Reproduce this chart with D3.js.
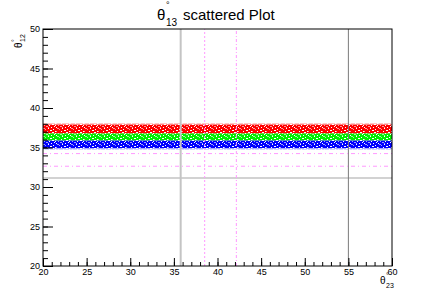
<!DOCTYPE html>
<html>
<head>
<meta charset="utf-8">
<script src="https://cdn.jsdelivr.net/npm/d3@7"></script>
<style>
  body { margin: 0; background: #fff; }
  text { font-family: "Liberation Sans", Arial, sans-serif; }
</style>
</head>
<body>
<div id="chart"></div>
<script>
const config = {
    width: 436,
    height: 295,
    marginTop: 29,
    marginRight: 44,
    marginBottom: 29,
    marginLeft: 43
};

// scattered bands (theta12 range per colour, over the full theta23 range)
const series = ['red', 'green', 'blue'];
const bandColors = ['#ff0000', '#00ee00', '#0000ff'];
const bandLow = [36.82, 35.93, 34.93];
const bandHigh = [37.88, 36.75, 35.85];
const bandX = [20, 60];

// reference lines
const grayV = [35.78, 55];
const grayH = [31.15];
const magentaV = [38.53, 42.16];
const magentaH = [34.23, 32.63];

const xTicks = [20, 25, 30, 35, 40, 45, 50, 55, 60];
const yTicks = [20, 25, 30, 35, 40, 45, 50];
const xDomain = [20, 60];
const yDomain = [20, 50];

const svg = d3.select('#chart')
    .append('svg')
    .attr('width', config.width)
    .attr('height', config.height);

const xScale = d3.scaleLinear()
    .domain(xDomain)
    .range([config.marginLeft, config.width - config.marginRight]);

const yScale = d3.scaleLinear()
    .domain(yDomain)
    .range([config.height - config.marginBottom, config.marginTop]);

// speckled fill texture for the dense scatter
const defs = svg.append('defs');
const specks = [[1,0],[6,0],[11,1],[3,1],[8,2],[13,3],[0,3],[5,3],[10,4],[2,5],[7,5],[12,6],[4,6],[9,7],[0,7],[6,7],[13,5]];
series.forEach((name, i) => {
    const p = defs.append('pattern')
        .attr('id', 'band-' + name)
        .attr('patternUnits', 'userSpaceOnUse')
        .attr('width', 14)
        .attr('height', 8);
    p.append('rect').attr('width', 14).attr('height', 8).attr('fill', bandColors[i]);
    specks.forEach(([sx, sy], k) => {
        p.append('rect').attr('x', sx).attr('y', sy)
            .attr('width', k % 4 === 0 ? 2 : 1).attr('height', 1)
            .attr('fill', '#fff')
            .attr('opacity', k % 3 === 0 ? 0.6 : 1);
    });
});

const bands = svg.append('g');

// soft fringe around each band
bands.selectAll('rect.fringe')
    .data(series)
    .join('rect')
    .attr('class', 'fringe')
    .attr('x', xScale(bandX[0]))
    .attr('width', xScale(bandX[1]) - xScale(bandX[0]))
    .attr('y', (d, i) => yScale(bandHigh[i]) - 1.5)
    .attr('height', (d, i) => yScale(bandLow[i]) - yScale(bandHigh[i]) + 3)
    .attr('fill', d => `url(#band-${d})`)
    .attr('opacity', 0.3);

bands.selectAll('rect.core')
    .data(series)
    .join('rect')
    .attr('class', 'core')
    .attr('x', xScale(bandX[0]))
    .attr('width', xScale(bandX[1]) - xScale(bandX[0]))
    .attr('y', (d, i) => yScale(bandHigh[i]))
    .attr('height', (d, i) => yScale(bandLow[i]) - yScale(bandHigh[i]))
    .attr('fill', d => `url(#band-${d})`);

// reference lines
svg.append('g')
    .selectAll('line')
    .data(grayH)
    .join('line')
    .attr('x1', xScale(20)).attr('x2', xScale(60))
    .attr('y1', d => yScale(d)).attr('y2', d => yScale(d))
    .attr('stroke', '#d2d2d2')
    .attr('stroke-width', 2);

svg.append('g')
    .selectAll('line')
    .data(grayV)
    .join('line')
    .attr('x1', d => xScale(d)).attr('x2', d => xScale(d))
    .attr('y1', yScale(20)).attr('y2', yScale(50))
    .attr('stroke', (d, i) => i === 0 ? '#c4c4c4' : '#7a7a7a')
    .attr('stroke-width', (d, i) => i === 0 ? 2 : 1);

svg.append('g')
    .selectAll('line')
    .data(magentaV)
    .join('line')
    .attr('x1', d => xScale(d)).attr('x2', d => xScale(d))
    .attr('y1', yScale(20)).attr('y2', yScale(50))
    .attr('stroke', '#ff99ff')
    .attr('stroke-dasharray', (d, i) => i === 0 ? '2,2' : '3,2,1,2');

svg.append('g')
    .selectAll('line')
    .data(magentaH)
    .join('line')
    .attr('x1', xScale(20)).attr('x2', xScale(60))
    .attr('y1', d => yScale(d)).attr('y2', d => yScale(d))
    .attr('stroke', '#ff99ff')
    .attr('stroke-dasharray', '4,3,1,3');

// axes: ticks inside the frame
const bottom = config.height - config.marginBottom;
svg.append('g')
    .attr('transform', `translate(0,${bottom})`)
    .call(d3.axisBottom(xScale).tickValues(d3.range(20, 61, 1)).tickSize(-4).tickSizeOuter(0).tickFormat(''))
    .call(g => g.select('.domain').remove());

svg.append('g')
    .attr('transform', `translate(0,${bottom})`)
    .call(d3.axisBottom(xScale).tickValues(xTicks).tickSize(-8).tickSizeOuter(0).tickPadding(3))
    .call(g => g.select('.domain').remove())
    .call(g => g.selectAll('text').attr('font-size', 9).attr('fill', '#000'));

svg.append('g')
    .attr('transform', `translate(${config.marginLeft},0)`)
    .call(d3.axisLeft(yScale).tickValues(d3.range(20, 51, 1)).tickSize(-5).tickSizeOuter(0).tickFormat(''))
    .call(g => g.select('.domain').remove());

svg.append('g')
    .attr('transform', `translate(${config.marginLeft},0)`)
    .call(d3.axisLeft(yScale).tickValues(yTicks).tickSize(-10).tickSizeOuter(0).tickPadding(3))
    .call(g => g.select('.domain').remove())
    .call(g => g.selectAll('text').attr('font-size', 9).attr('fill', '#000'));

// frame
svg.append('rect')
    .attr('x', xScale(20))
    .attr('y', yScale(50))
    .attr('width', xScale(60) - xScale(20))
    .attr('height', yScale(20) - yScale(50))
    .attr('fill', 'none')
    .attr('stroke', '#000')
    .attr('stroke-width', 1);

// title
const title = svg.append('g');
title.append('text').attr('x', 157).attr('y', 20).attr('font-size', 15).text('θ');
title.append('text').attr('x', 166).attr('y', 8).attr('font-size', 9).text('°');
title.append('text').attr('x', 166).attr('y', 26).attr('font-size', 10).text('13');
title.append('text').attr('x', 183).attr('y', 20).attr('font-size', 15).text('scattered Plot');

// y-axis title
const ylab = svg.append('g').attr('transform', 'translate(22,48) rotate(-90)');
ylab.append('text').attr('x', 0).attr('y', 0).attr('font-size', 10).text('θ');
ylab.append('text').attr('x', 6).attr('y', -5).attr('font-size', 7).text('°');
ylab.append('text').attr('x', 6).attr('y', 3).attr('font-size', 7).text('12');

// x-axis title
const xlab = svg.append('g').attr('transform', 'translate(380,284)');
xlab.append('text').attr('x', 0).attr('y', 0).attr('font-size', 10).text('θ');
xlab.append('text').attr('x', 6).attr('y', -6).attr('font-size', 7).text('°');
xlab.append('text').attr('x', 6).attr('y', 4).attr('font-size', 7).text('23');
</script>
</body>
</html>
